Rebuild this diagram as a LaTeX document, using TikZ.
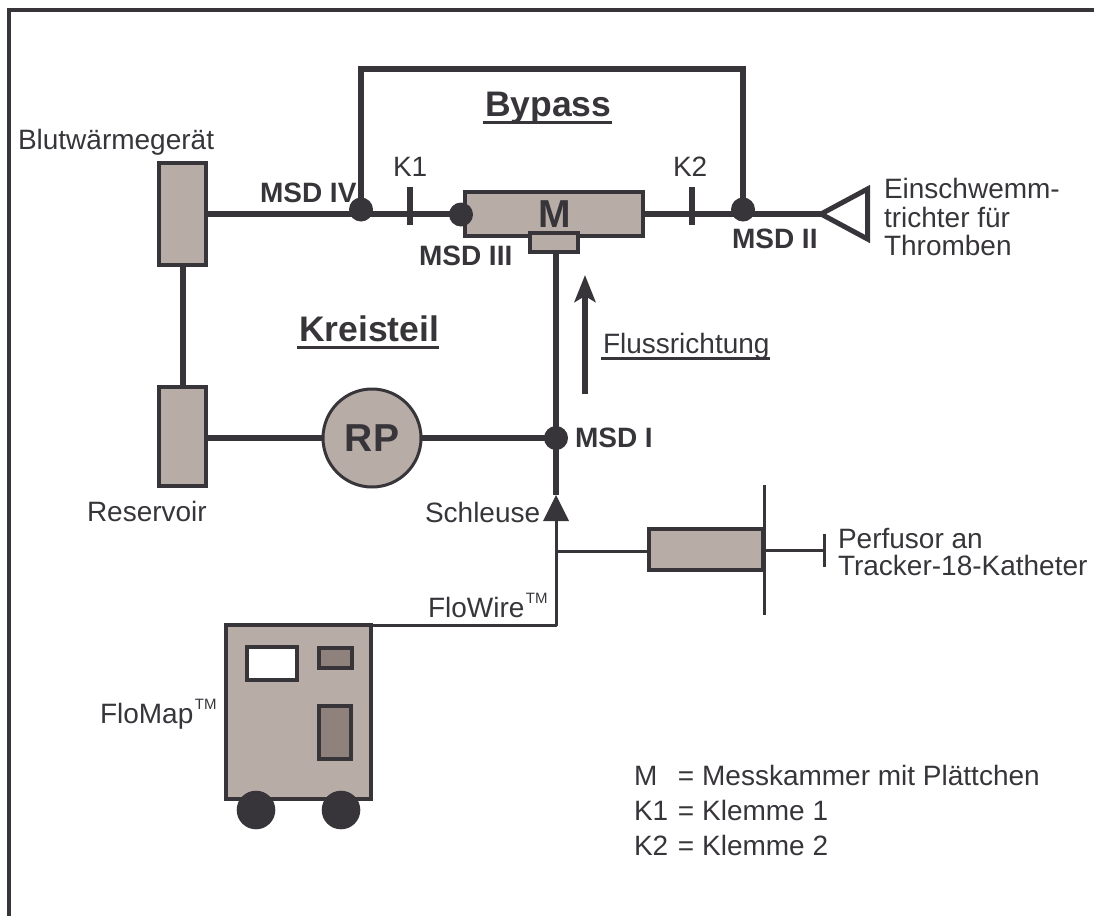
\documentclass[tikz,border=0pt]{standalone}
\usepackage{fontspec}
\setmainfont{Liberation Sans}
\usetikzlibrary{arrows.meta,calc}
\definecolor{ink}{HTML}{37353A}
\definecolor{boxfill}{HTML}{B8ACA7}
\definecolor{panel}{HTML}{8F817C}
\newcommand{\tmk}{\hspace{1.5pt}\raisebox{13.5pt}{\fontsize{15}{15}\selectfont TM}}
\tikzset{
  x=1pt,y=-1pt,
  every node/.style={inner sep=0pt,outer sep=0pt,text=ink},
  txt/.style={anchor=base west,font=\fontsize{28}{28}\selectfont},
  bold/.style={anchor=base west,font=\fontsize{28}{28}\selectfont\bfseries},
  head/.style={anchor=base west,font=\fontsize{35.5}{35.5}\selectfont\bfseries},
  unit/.style={draw=ink,line width=4pt,fill=boxfill,rectangle},
  thick line/.style={draw=ink,line width=6pt},
  thin line/.style={draw=ink,line width=3pt},
  dot/.style={circle,fill=ink,minimum size=24pt},
  wheel/.style={circle,fill=ink,minimum size=38.6pt},
  rule line/.style={draw=ink,line width=3pt},
}
\begin{document}
\begin{tikzpicture}
\useasboundingbox (0,0) rectangle (1094,916);
% frame
\draw[ink,line width=4pt,line join=miter] (9,916) -- (9,10) -- (1094,10);

% coordinates on the lines
\coordinate (j4) at (361,214);
\coordinate (j2) at (743,214);
\coordinate (j3) at (461,214);
\coordinate (j1) at (556,438);
\coordinate (tl) at (361,69);
\coordinate (tr) at (743,69);
\coordinate (k1a) at (409.5,187);
\coordinate (k1b) at (409.5,225);
\coordinate (k2a) at (692,187);
\coordinate (k2b) at (692,225);
\coordinate (fa) at (585,394);
\coordinate (fb) at (585,275);
\coordinate (ta) at (821,214);
\coordinate (tb) at (867.5,189);
\coordinate (tc) at (867.5,239);
\coordinate (sa) at (556,495);
\coordinate (sl) at (543,521);
\coordinate (sr) at (569,521);
\coordinate (sm) at (556.5,521);
\coordinate (bj) at (556.5,551);
\coordinate (pa) at (764,485);
\coordinate (pb) at (764,615);
\coordinate (ea) at (824,534);
\coordinate (eb) at (824,567);
\coordinate (em) at (824,550.5);

% units
\node[unit,minimum width=178pt,minimum height=44pt] (mbox) at (554,214) {};
\node[unit,minimum width=48pt,minimum height=19pt] (plate) at (554,242.5) {};
\node[unit,minimum width=47pt,minimum height=102pt] (blut) at (182.5,214) {};
\node[unit,minimum width=47pt,minimum height=99pt] (res) at (182.5,436.5) {};
\node[unit,minimum width=114pt,minimum height=41pt] (syr) at (706,549.5) {};
\node[unit,minimum width=145pt,minimum height=174pt] (flomap) at (298.5,712) {};
\node[unit,fill=white,minimum width=50pt,minimum height=33pt] (screen) at (272,663.5) {};
\node[unit,fill=panel,minimum width=33pt,minimum height=20pt] (pan1) at (335.5,658) {};
\node[unit,fill=panel,minimum width=32pt,minimum height=53pt] (pan2) at (335,732.5) {};
\node[wheel] (w1) at (256,810) {};
\node[wheel] (w2) at (341,810) {};
\node[draw=ink,line width=3pt,fill=boxfill,circle,minimum size=98pt,
      font=\fontsize{39}{39}\selectfont\bfseries] (rp) at (372,438) {RP};

% thick connectors
\path[thick line] (blut.east |- j4) -- (j4) -- (j3);
\path[thick line] (mbox.east |- j2) -- (j2) -- (ta);
\path[thick line,line join=miter] (j4) -- (tl) -- (tr) -- (j2);
\path[thick line] (183,265) -- (183,387);
\path[thick line] (res.east |- j1) -- (rp.west |- j1);
\path[thick line] (rp.east |- j1) -- (j1);
\path[thick line] (plate.south -| j1) -- (sa);
\path[thick line] (k1a) -- (k1b);
\path[thick line] (k2a) -- (k2b);
\path[draw=ink,line width=5pt,line join=miter,miter limit=10] (ta) -- (tb) -- (tc) -- cycle;

% junction dots
\node[dot] (d4) at (361,209.5) {};
\node[dot] (d3) at (461,214.5) {};
\node[dot] (d2) at (743,209.5) {};
\node[dot] (d1) at (556,438) {};

% lock, thin lines
\fill[ink] (sa) -- (sr) -- (sl) -- cycle;
\path[thin line,line join=round] (flomap.north east) -- (556.5,625) -- (sm);
\path[thin line] (bj) -- (syr.west |- bj);
\path[thin line] (syr.east |- em) -- (em);
\path[thin line] (ea) -- (eb);
\path[thin line] (pa) -- (pb);

% flow arrow
\draw[ink,line width=6pt,-{Stealth[length=27pt,width=21pt,inset=6pt]}] (fa) -- (fb);

% labels
\node[txt] at (18,149) {Blutwärmegerät};
\node[bold] at (260,202) {MSD IV};
\node[txt] at (393,176) {K1};
\node[txt] at (673,176) {K2};
\node[anchor=base,font=\fontsize{39}{39}\selectfont\bfseries] at (555,227) {M};
\node[bold] at (419,265) {MSD III};
\node[bold] at (732,248) {MSD II};
\node[bold] at (575,447) {MSD I};
\node[txt] at (884,198) {Einschwemm-};
\node[txt] at (884,227) {trichter für};
\node[txt] at (884,255) {Thromben};
\node[head] (bypass) at (485,116) {Bypass};
\node[head] (kreis) at (299,341) {Kreisteil};
\node[txt] (fluss) at (603,353) {Flussrichtung};
\path[rule line] ($(bypass.base west)+(-2,6.5)$) -- ($(bypass.base east)+(1,6.5)$);
\path[rule line] ($(kreis.base west)+(-2,6)$) -- ($(kreis.base east)+(0,6)$);
\path[rule line] ($(fluss.base west)+(-2,5)$) -- ($(fluss.base east)+(0,5)$);
\node[txt] at (87,521) {Reservoir};
\node[txt] at (425,522) {Schleuse};
\node[txt] at (428,617) {FloWire\tmk};
\node[txt] at (100,723) {FloMap\tmk};
\node[txt] at (838,548) {Perfusor an};
\node[txt] at (838,575) {Tracker-18-Katheter};
\node[txt] at (634,785) {\makebox[44pt][l]{M}= Messkammer mit Plättchen};
\node[txt] at (634,820) {\makebox[44pt][l]{K1}= Klemme 1};
\node[txt] at (634,855) {\makebox[44pt][l]{K2}= Klemme 2};
\end{tikzpicture}
\end{document}
